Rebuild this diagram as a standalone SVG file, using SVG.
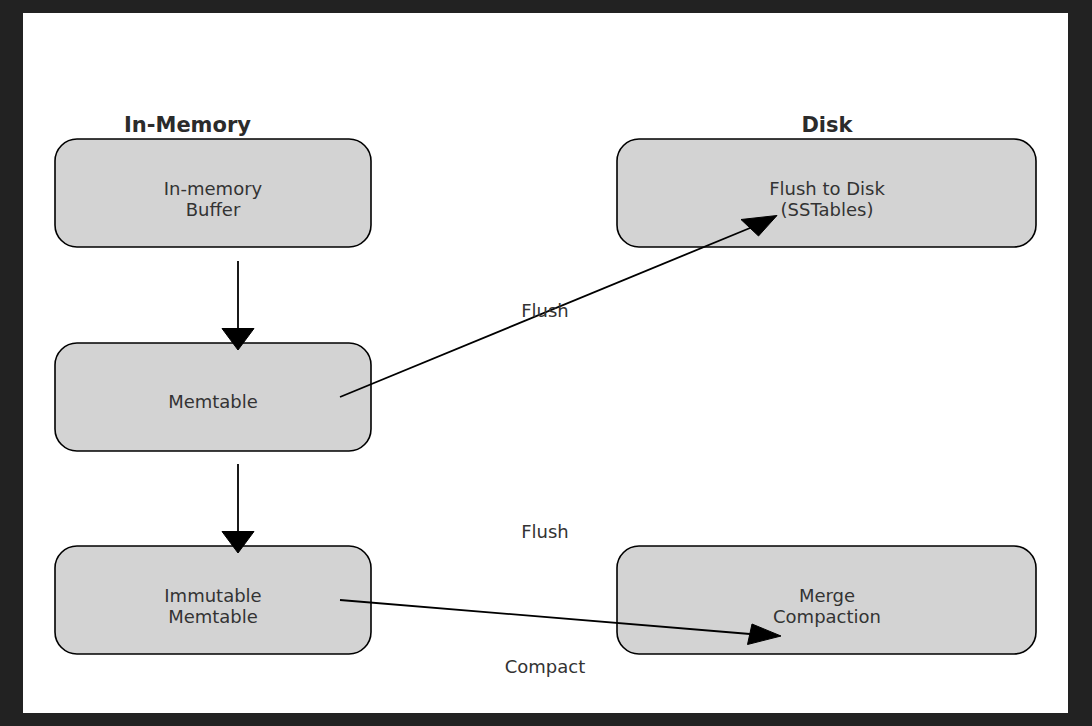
<svg xmlns="http://www.w3.org/2000/svg" width="1092" height="726" viewBox="0 0 1092 726">
<style>
.node rect{fill:#d3d3d3;stroke:#000;stroke-width:1.6}
.t{font-family:"DejaVu Sans",sans-serif;font-size:18px;fill:#333;text-anchor:middle}
.h{font-family:"DejaVu Sans",sans-serif;font-size:21px;font-weight:bold;fill:#2b2b2b;text-anchor:middle}
.edge{stroke:#000;stroke-width:1.8;fill:none}
.head{fill:#000;stroke:#000;stroke-width:1}
</style>
<rect x="0" y="0" width="1092" height="726" fill="#222"/>
<rect x="23" y="13" width="1045" height="700" fill="#fff"/>
<text class="h" x="187.5" y="132">In-Memory</text>
<text class="h" x="827" y="132">Disk</text>
<g id="buffer" class="node"><rect x="55" y="139" width="316" height="108" rx="22"/><text class="t" x="213" y="195">In-memory</text><text class="t" x="213" y="216">Buffer</text></g>
<g id="memtable" class="node"><rect x="55" y="343" width="316" height="108" rx="22"/><text class="t" x="213" y="408">Memtable</text></g>
<g id="immutable" class="node"><rect x="55" y="546" width="316" height="108" rx="22"/><text class="t" x="213" y="602">Immutable</text><text class="t" x="213" y="623">Memtable</text></g>
<g id="sstables" class="node"><rect x="617" y="139" width="419" height="108" rx="22"/><text class="t" x="827" y="195">Flush to Disk</text><text class="t" x="827" y="216">(SSTables)</text></g>
<g id="compaction" class="node"><rect x="617" y="546" width="419" height="108" rx="22"/><text class="t" x="827" y="602">Merge</text><text class="t" x="827" y="623">Compaction</text></g>
<g id="connectors">
<line class="edge" x1="238" y1="261" x2="238" y2="329"/>
<polygon class="head" points="222,328.5 254,328.5 238,350"/>
<line class="edge" x1="238" y1="464" x2="238" y2="532"/>
<polygon class="head" points="222,531.5 254,531.5 238,553"/>
<line class="edge" x1="340" y1="397" x2="750" y2="228"/>
<polygon class="head" points="741,219.5 777,215.5 758.5,236"/>
<line class="edge" x1="340" y1="600" x2="750" y2="634"/>
<polygon class="head" points="752,624 781,636 747.5,644.5"/>
<text class="t" x="545" y="317">Flush</text>
<text class="t" x="545" y="538">Flush</text>
<text class="t" x="545" y="673">Compact</text>
</g>
</svg>
